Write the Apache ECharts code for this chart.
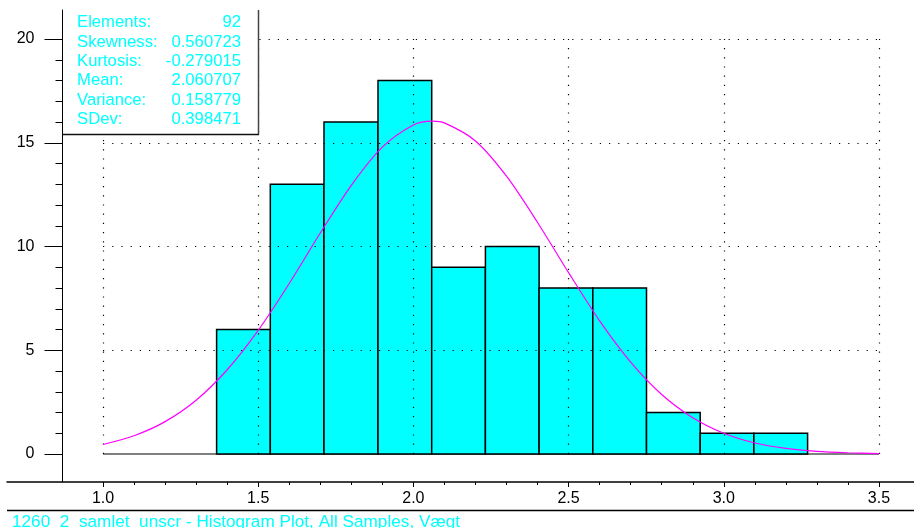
<!DOCTYPE html>
<html>
<head>
<meta charset="utf-8">
<script src="https://cdn.jsdelivr.net/npm/echarts@6/dist/echarts.min.js"></script>
<style>
  html, body { margin: 0; padding: 0; background: #fff; }
  #hist { width: 914px; height: 528px; }
</style>
</head>
<body>
<div id="hist"></div>
<script>
// histogram bins (edges) and counts
var binEdges = [1.366, 1.539, 1.712, 1.886, 2.059, 2.232, 2.405, 2.578, 2.751, 2.924, 3.097, 3.270];
var counts = [6, 13, 16, 18, 9, 10, 8, 8, 2, 1, 1];

// fitted normal curve
var curveX = [1.0, 1.1, 1.2, 1.3, 1.4, 1.5, 1.6, 1.7, 1.8, 1.9, 2.0, 2.06, 2.1, 2.2, 2.3, 2.4,
  2.5, 2.6, 2.7, 2.8, 2.9, 3.0, 3.1, 3.2, 3.3, 3.4, 3.5];
var curveY = [0.46, 0.88, 1.56, 2.59, 4.06, 5.96, 8.22, 10.65, 12.95, 14.79, 15.86, 16.04, 15.96, 15.09, 13.39, 11.16,
  8.74, 6.42, 4.43, 2.87, 1.75, 1.00, 0.53, 0.27, 0.13, 0.06, 0.02];

// axis ticks
var xMajor = [1.0, 1.5, 2.0, 2.5, 3.0, 3.5];
var xMinor = [1.0, 1.1, 1.2, 1.3, 1.4, 1.5, 1.6, 1.7, 1.8, 1.9, 2.0, 2.1, 2.2, 2.3, 2.4, 2.5,
  2.6, 2.7, 2.8, 2.9, 3.0, 3.1, 3.2, 3.3, 3.4, 3.5];
var yMajor = [0, 5, 10, 15, 20];
var yMinor = [0, 1, 2, 3, 4, 5, 6, 7, 8, 9, 10, 11, 12, 13, 14, 15, 16, 17, 18, 19, 20];

// summary statistics
var statNames = ['Elements:', 'Skewness:', 'Kurtosis:', 'Mean:', 'Variance:', 'SDev:'];
var statValues = ['92', '0.560723', '-0.279015', '2.060707', '0.158779', '0.398471'];

var chartTitle = '1260_2_samlet_unscr - Histogram Plot, All Samples, Vægt';

var font = 'Liberation Sans, Arial, sans-serif';
var cyan = '#00ffff';

var gridLines = [];
xMajor.forEach(function (x) {
  gridLines.push([{coord: [x, 0]}, {coord: [x, 20]}]);
});
yMajor.slice(1).forEach(function (y) {
  gridLines.push([{coord: [1.0, y]}, {coord: [3.5, y]}]);
});

var graphics = [
  {type: 'rect', z: 100, shape: {x: 63, y: 0, width: 195, height: 134},
    style: {fill: '#fff'}},
  {type: 'line', z: 101, shape: {x1: 258.5, y1: 10, x2: 258.5, y2: 134.5},
    style: {stroke: '#444', lineWidth: 1.5}},
  {type: 'line', z: 101, shape: {x1: 62, y1: 134.5, x2: 259, y2: 134.5},
    style: {stroke: '#111', lineWidth: 1.5}},
  {type: 'line', z: 101, shape: {x1: 7, y1: 510.5, x2: 914, y2: 510.5},
    style: {stroke: '#000', lineWidth: 1.5}},
  {type: 'text', z: 101, x: 12, y: 514,
    style: {text: chartTitle, fill: cyan, font: '17.2px ' + font, textVerticalAlign: 'top'}}
];
statNames.forEach(function (name, i) {
  var y = 22.5 + i * 19.4;
  graphics.push({type: 'text', z: 102, x: 77, y: y,
    style: {text: name, fill: cyan, font: '16.7px ' + font, textVerticalAlign: 'middle'}});
  graphics.push({type: 'text', z: 102, x: 241, y: y,
    style: {text: statValues[i], fill: cyan, font: '16.7px ' + font, textAlign: 'right', textVerticalAlign: 'middle'}});
});

var chart = echarts.init(document.getElementById('hist'));
chart.setOption({
  animation: false,
  grid: {left: 7, right: 0, top: 10, bottom: 46},
  xAxis: [
    {
      type: 'value', min: 0.6907, max: 3.6128, position: 'bottom',
      axisLine: {onZero: false, lineStyle: {color: '#000', width: 1.5}},
      axisTick: {customValues: xMajor, length: 5, lineStyle: {color: '#000'}},
      axisLabel: {customValues: xMajor, margin: 9, color: '#000', fontSize: 16, fontFamily: font,
        formatter: function (v) { return v.toFixed(1); }},
      splitLine: {show: false}
    },
    {
      type: 'value', min: 0.6907, max: 3.6128, position: 'bottom', gridIndex: 0,
      axisLine: {show: false, onZero: false},
      axisTick: {customValues: xMinor, length: 3, lineStyle: {color: '#000'}},
      axisLabel: {show: false},
      splitLine: {show: false}
    }
  ],
  yAxis: [
    {
      type: 'value', min: -1.349, max: 21.4, position: 'left', offset: -55.5,
      axisLine: {show: true, lineStyle: {color: '#000', width: 1}},
      axisTick: {customValues: yMajor, length: 18, lineStyle: {color: '#000'}},
      axisLabel: {customValues: yMajor, margin: 28, color: '#000', fontSize: 16, fontFamily: font},
      splitLine: {show: false}
    },
    {
      type: 'value', min: -1.349, max: 21.4, position: 'left', offset: -55.5,
      axisLine: {show: false},
      axisTick: {customValues: yMinor, length: 7, lineStyle: {color: '#000'}},
      axisLabel: {show: false},
      splitLine: {show: false}
    }
  ],
  series: [
    {
      type: 'line', z: 1, silent: true, symbol: 'none',
      data: [[1.0, 0], [3.5, 0]],
      lineStyle: {color: '#000', width: 1.2},
      markLine: {
        silent: true, symbol: ['none', 'none'], label: {show: false},
        lineStyle: {color: '#000', width: 1.2, type: [1.2, 8]},
        emphasis: {disabled: true},
        data: gridLines
      }
    },
    {
      type: 'custom', z: 3,
      encode: {x: [0, 1], y: 2},
      data: counts.map(function (c, i) { return [binEdges[i], binEdges[i + 1], c]; }),
      renderItem: function (params, api) {
        var p0 = api.coord([api.value(0), api.value(2)]);
        var p1 = api.coord([api.value(1), 0]);
        return {
          type: 'rect',
          shape: {x: p0[0], y: p0[1], width: p1[0] - p0[0], height: p1[1] - p0[1]},
          style: {fill: cyan, stroke: '#000', lineWidth: 1.5}
        };
      }
    },
    {
      type: 'line', z: 5, silent: true, symbol: 'none', smooth: 0.3,
      data: curveX.map(function (x, i) { return [x, curveY[i]]; }),
      lineStyle: {color: '#ff00ff', width: 1.2}
    }
  ],
  graphic: graphics
});
</script>
</body>
</html>
